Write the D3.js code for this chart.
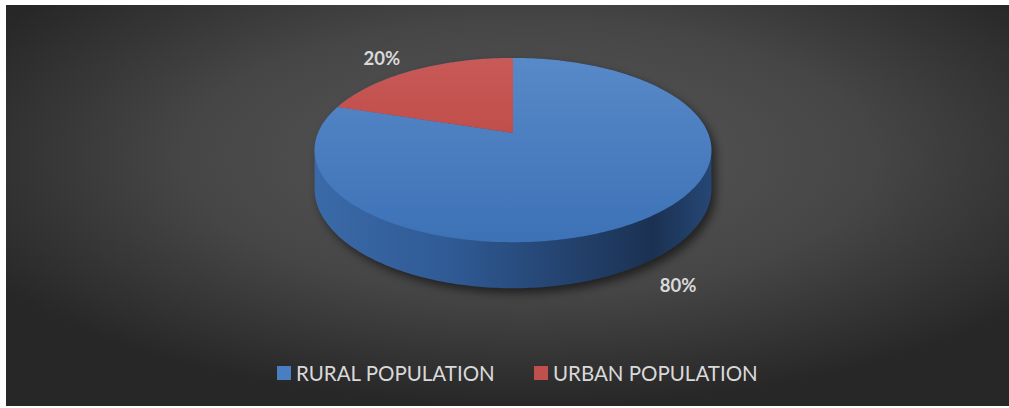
<!DOCTYPE html>
<html>
<head>
<meta charset="utf-8">
<script src="https://cdn.jsdelivr.net/npm/d3@7/dist/d3.min.js"></script>
<style>
  html, body { margin: 0; padding: 0; background: #ffffff; }
  svg { display: block; }
</style>
</head>
<body>
<svg id="chart" width="1009" height="408"></svg>
<script>
// Population split
const categories = ["RURAL POPULATION", "URBAN POPULATION"];
const values = [80, 20];
const labels = ["80%", "20%"];
const colors = ["#4a7ec2", "#c0504d"];

const W = 1009, H = 408;
const svg = d3.select("#chart");
const defs = svg.append("defs");

// Chart area frame (white margin top and left)
const area = { x: 6, y: 5, w: W - 6, h: H - 5 - 2 };

const bg = defs.append("radialGradient").attr("id", "bg")
  .attr("cx", "52%").attr("cy", "38%").attr("r", "62%");
bg.append("stop").attr("offset", "0%").attr("stop-color", "#585858");
bg.append("stop").attr("offset", "55%").attr("stop-color", "#464646");
bg.append("stop").attr("offset", "100%").attr("stop-color", "#272727");

svg.append("rect").attr("x", area.x).attr("y", area.y)
  .attr("width", area.w).attr("height", area.h).attr("fill", "url(#bg)");

// 3D perspective pie geometry
const cx = 513, cy = 133;       // projected pie centre
const sR = 195;                 // horizontal scale of radius
const sA = 89;                  // vertical scale of radius (tilt)
const k = 0.185;                // perspective strength
const dep = 37.5;               // thickness

function proj(a, f, h) {
  const X = f * Math.sin(a), Z = f * Math.cos(a);
  const w = 1 + k * Z;
  return [cx + sR * X / w, cy - sA * Z / w + dep * h / w];
}

const pie = d3.pie().sort(null).value(d => d)(values);

// Side (hull of top and bottom rims)
const rimPts = [];
for (let i = 0; i < 360; i++) {
  const a = i / 360 * 2 * Math.PI;
  rimPts.push(proj(a, 1, 0));
  rimPts.push(proj(a, 1, 1));
}
const hull = d3.polygonHull(rimPts);

// Soft shadow under the pie
const blur = defs.append("filter").attr("id", "shadow")
  .attr("x", "-20%").attr("y", "-20%").attr("width", "140%").attr("height", "140%");
blur.append("feGaussianBlur").attr("stdDeviation", 5);
svg.append("path")
  .attr("d", "M" + hull.map(p => [p[0] + 4, p[1] + 5].join(",")).join("L") + "Z")
  .attr("fill", "#000").attr("opacity", 0.55).attr("filter", "url(#shadow)");

const sideGrad = defs.append("linearGradient").attr("id", "side")
  .attr("gradientUnits", "userSpaceOnUse")
  .attr("x1", cx - sR - 5).attr("x2", cx + sR + 5).attr("y1", 0).attr("y2", 0);
[["0%", "#3a6aa8"], ["35%", "#2f5a94"], ["70%", "#213d66"], ["85%", "#1b3152"], ["100%", "#264876"]]
  .forEach(([o, c]) => sideGrad.append("stop").attr("offset", o).attr("stop-color", c));

svg.append("path")
  .attr("d", "M" + hull.join("L") + "Z")
  .attr("fill", "url(#side)");

// Top face slices
const topGrads = [
  ["#5a8bc9", "#3d72b7"],
  ["#c95c59", "#b73d3a"]
];
topGrads.forEach((g, i) => {
  const lg = defs.append("linearGradient").attr("id", "top" + i)
    .attr("gradientUnits", "userSpaceOnUse")
    .attr("x1", 0).attr("x2", 0).attr("y1", cy - sA).attr("y2", cy + sA * 1.2);
  lg.append("stop").attr("offset", "0%").attr("stop-color", g[0]);
  lg.append("stop").attr("offset", "100%").attr("stop-color", g[1]);
});

pie.forEach((s, i) => {
  const pts = [[cx, cy]];
  const n = Math.max(8, Math.ceil((s.endAngle - s.startAngle) / (Math.PI / 180)));
  for (let j = 0; j <= n; j++) {
    pts.push(proj(s.startAngle + (s.endAngle - s.startAngle) * j / n, 1, 0));
  }
  svg.append("path")
    .attr("d", "M" + pts.join("L") + "Z")
    .attr("fill", "url(#top" + i + ")");
});

// Data labels outside each slice
pie.forEach((s, i) => {
  const mid = (s.startAngle + s.endAngle) / 2;
  const front = Math.cos(mid) < 0;
  const p = proj(mid, 1.22, front ? 1 : 0);
  svg.append("text")
    .attr("x", p[0] - (front ? 6 : 13))
    .attr("y", p[1] + 6)
    .attr("text-anchor", "middle")
    .attr("font-family", "Lato, 'Open Sans', sans-serif")
    .attr("font-weight", "bold")
    .attr("font-size", 18.5)
    .attr("fill", "#d9d9d9")
    .text(labels[i]);
});

// Legend
const legend = svg.append("g");
const lx = [277, 534];
categories.forEach((c, i) => {
  legend.append("rect").attr("x", lx[i]).attr("y", 366)
    .attr("width", 14).attr("height", 14).attr("fill", colors[i]);
  legend.append("text")
    .attr("x", lx[i] + 19).attr("y", 381)
    .attr("font-family", "Lato, 'Open Sans', sans-serif")
    .attr("font-size", 20.5)
    .attr("fill", "#d9d9d9")
    .text(c);
});
</script>
</body>
</html>
